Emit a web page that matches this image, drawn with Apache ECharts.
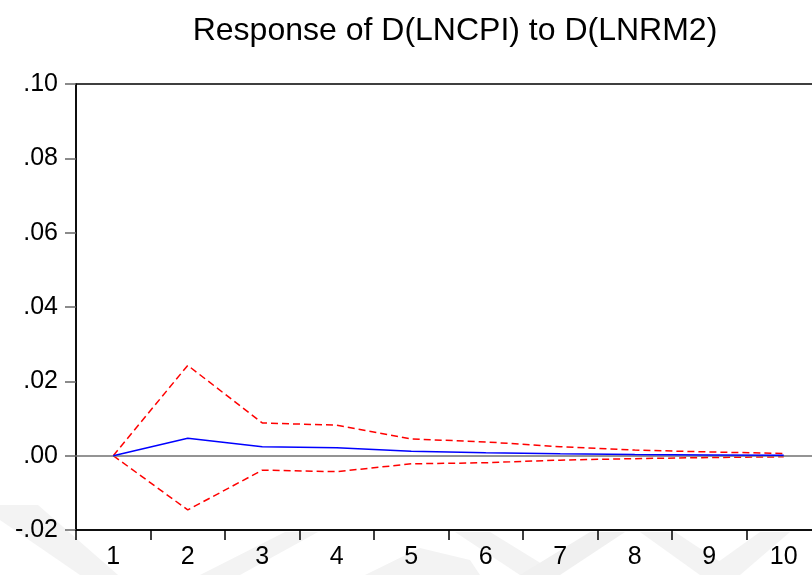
<!DOCTYPE html>
<html>
<head>
<meta charset="utf-8">
<script src="https://cdn.jsdelivr.net/npm/echarts@6/dist/echarts.min.js"></script>
<style>
html,body{margin:0;padding:0;background:#fff;}
#c{width:812px;height:575px;}
</style>
</head>
<body>
<div id="c"></div>
<script>
var titleText = 'Response of D(LNCPI) to D(LNRM2)';
var periods = ['1','2','3','4','5','6','7','8','9','10'];
var response = [0, 0.0047, 0.0024, 0.0021, 0.0012, 0.0008, 0.0005, 0.0003, 0.0002, 0.0001];
var upperBand = [0, 0.0243, 0.0088, 0.0082, 0.0045, 0.0037, 0.0024, 0.0015, 0.0010, 0.0006];
var lowerBand = [0, -0.0146, -0.0039, -0.0043, -0.0022, -0.0019, -0.0012, -0.0008, -0.0005, -0.0003];
var yTicks = [-0.02, 0.00, 0.02, 0.04, 0.06, 0.08, 0.10];

var chart = echarts.init(document.getElementById('c'), null, {renderer: 'canvas'});
var FONT = '"Liberation Sans", Arial, sans-serif';

function fmt(v) {
  var s = v.toFixed(2);
  return s.replace('0.', '.');
}

chart.setOption({
  animation: false,
  backgroundColor: '#ffffff',
  graphic: [
    {type: 'polygon', z: -10, silent: true, shape: {points: [[0,505],[38,505],[118,575],[80,575],[0,520]]}, style: {fill: '#f3f3f3'}},
    {type: 'polygon', z: -10, silent: true, shape: {points: [[200,575],[285,532],[318,532],[240,575]]}, style: {fill: '#f3f3f3'}},
    {type: 'polygon', z: -10, silent: true, shape: {points: [[365,575],[420,548],[470,560],[480,575]]}, style: {fill: '#f3f3f3'}},
    {type: 'polygon', z: -10, silent: true, shape: {points: [[455,532],[490,532],[560,575],[520,575]]}, style: {fill: '#f3f3f3'}},
    {type: 'polygon', z: -10, silent: true, shape: {points: [[520,575],[590,532],[625,532],[560,575]]}, style: {fill: '#f0f0f0'}},
    {type: 'polygon', z: -10, silent: true, shape: {points: [[640,532],[675,532],[740,575],[700,575]]}, style: {fill: '#f3f3f3'}},
    {type: 'polygon', z: -10, silent: true, shape: {points: [[700,575],[760,532],[790,532],[740,575]]}, style: {fill: '#f3f3f3'}}
  ],
  title: {
    text: titleText,
    left: 450,
    top: 10,
    textAlign: 'center',
    textStyle: {fontFamily: FONT, fontSize: 32, fontWeight: 'normal', color: '#000'}
  },
  grid: {
    left: 76, top: 84, width: 745, height: 446,
    outerBoundsMode: 'none',
    containLabel: false,
    show: true, borderColor: '#000', borderWidth: 1.5, backgroundColor: 'transparent'
  },
  xAxis: {
    type: 'category',
    data: periods,
    boundaryGap: true,
    axisLine: {show: true, onZero: false, lineStyle: {color: '#000', width: 1.5}},
    axisTick: {show: true, length: 10, lineStyle: {color: '#000', width: 1.5}},
    axisLabel: {fontFamily: FONT, fontSize: 25, color: '#000', margin: 15},
    splitLine: {show: false}
  },
  yAxis: {
    type: 'value',
    min: -0.02, max: 0.10, interval: 0.02,
    axisLine: {show: true, lineStyle: {color: '#000', width: 1.5}},
    axisTick: {show: true, length: 11, lineStyle: {color: '#666', width: 1.5}},
    axisLabel: {fontFamily: FONT, fontSize: 25, color: '#000', margin: 18, padding: [0, 0, 8, 0], formatter: fmt},
    splitLine: {show: false}
  },
  series: [
    {
      name: 'Response', type: 'line', data: response, symbol: 'none',
      lineStyle: {color: '#0000ff', width: 1.5},
      z: 5,
      markLine: {
        silent: true, symbol: 'none', label: {show: false},
        lineStyle: {color: '#707070', type: 'solid', width: 1.5},
        data: [{yAxis: 0}]
      }
    },
    {
      name: 'Upper', type: 'line', data: upperBand, symbol: 'none',
      lineStyle: {color: '#ff0000', width: 1.5, type: [7, 4]}, z: 4
    },
    {
      name: 'Lower', type: 'line', data: lowerBand, symbol: 'none',
      lineStyle: {color: '#ff0000', width: 1.5, type: [7, 4]}, z: 4
    }
  ]
});
</script>
</body>
</html>
